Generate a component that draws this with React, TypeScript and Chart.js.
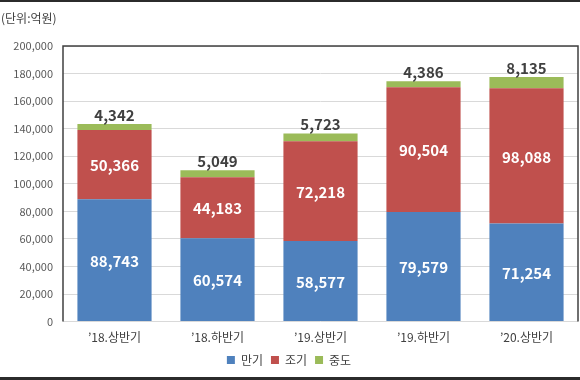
import React, { useEffect, useRef } from "react";
import { Chart, registerables } from "chart.js";

Chart.register(...registerables);

const categories = ["’18.상반기", "’18.하반기", "’19.상반기", "’19.하반기", "’20.상반기"];
const maturity = [88743, 60574, 58577, 79579, 71254];
const early = [50366, 44183, 72218, 90504, 98088];
const midway = [4342, 5049, 5723, 4386, 8135];
const seriesNames = ["만기", "조기", "중도"];
const unitLabel = "(단위:억원)";

const FONT = "'Noto Sans CJK KR', 'Noto Sans', sans-serif";
const fmt = (v: number) => v.toLocaleString("en-US");

const decorPlugin = {
  id: "decor",
  afterDatasetsDraw(chart: any) {
    const ctx = chart.ctx;
    const a = chart.chartArea;
    ctx.save();
    ctx.strokeStyle = "#404040";
    ctx.lineWidth = 1.5;
    ctx.beginPath();
    ctx.moveTo(a.left, a.bottom);
    ctx.lineTo(a.left, a.top);
    ctx.lineTo(a.right, a.top);
    ctx.lineTo(a.right, a.bottom);
    ctx.stroke();
    ctx.fillStyle = "#2b2b2b";
    ctx.fillRect(0, 0, chart.width, 2);
    ctx.fillRect(0, chart.height - 3, chart.width, 3);
    ctx.fillStyle = "#404040";
    ctx.font = `12px ${FONT}`;
    ctx.textAlign = "left";
    ctx.textBaseline = "middle";
    ctx.fillText(unitLabel, 1, 18);
    ctx.textAlign = "center";
    ctx.font = `bold 15px ${FONT}`;
    chart.data.datasets.forEach((ds: any, i: number) => {
      const meta = chart.getDatasetMeta(i);
      meta.data.forEach((el: any, j: number) => {
        const v = ds.data[j];
        if (i < 2) {
          ctx.fillStyle = "#ffffff";
          ctx.fillText(fmt(v), el.x, (el.y + el.base) / 2 + 1);
        } else {
          ctx.fillStyle = "#404040";
          ctx.fillText(fmt(v), el.x, el.y - 9);
        }
      });
    });
    ctx.restore();
  },
};

export default function App() {
  const ref = useRef<HTMLCanvasElement>(null);
  useEffect(() => {
    const chart = new Chart(ref.current!, {
      type: "bar",
      data: {
        labels: categories,
        datasets: [
          { label: seriesNames[0], data: maturity, backgroundColor: "#4F81BD" },
          { label: seriesNames[1], data: early, backgroundColor: "#C0504D" },
          { label: seriesNames[2], data: midway, backgroundColor: "#9BBB59" },
        ],
      },
      options: {
        animation: false,
        responsive: false,
        maintainAspectRatio: false,
        layout: { padding: { top: 46, right: 2, left: 0, bottom: 4 } },
        datasets: { bar: { categoryPercentage: 1, barPercentage: 0.72 } },
        plugins: {
          legend: {
            position: "bottom",
            labels: {
              boxWidth: 8,
              boxHeight: 8,
              padding: 8,
              color: "#404040",
              font: { family: FONT, size: 12 },
            },
          },
          tooltip: { enabled: false },
        },
        scales: {
          x: {
            stacked: true,
            grid: { display: false },
            border: { display: false },
            ticks: { color: "#404040", font: { family: FONT, size: 12 }, padding: 1 },
          },
          y: {
            stacked: true,
            min: 0,
            max: 200000,
            afterFit: (s: any) => {
              s.width = 63;
            },
            grid: { color: "#d9d9d9", drawTicks: false },
            border: { display: false },
            ticks: {
              stepSize: 20000,
              padding: 10,
              color: "#595959",
              font: { family: FONT, size: 11 },
              callback: (v: any) => fmt(Number(v)),
            },
          },
        },
      },
      plugins: [decorPlugin],
    });
    return () => chart.destroy();
  }, []);
  return (
    <div style={{ position: "absolute", left: 0, top: 0, width: 580, height: 380, background: "#fff" }}>
      <canvas ref={ref} width={580} height={380} />
    </div>
  );
}
